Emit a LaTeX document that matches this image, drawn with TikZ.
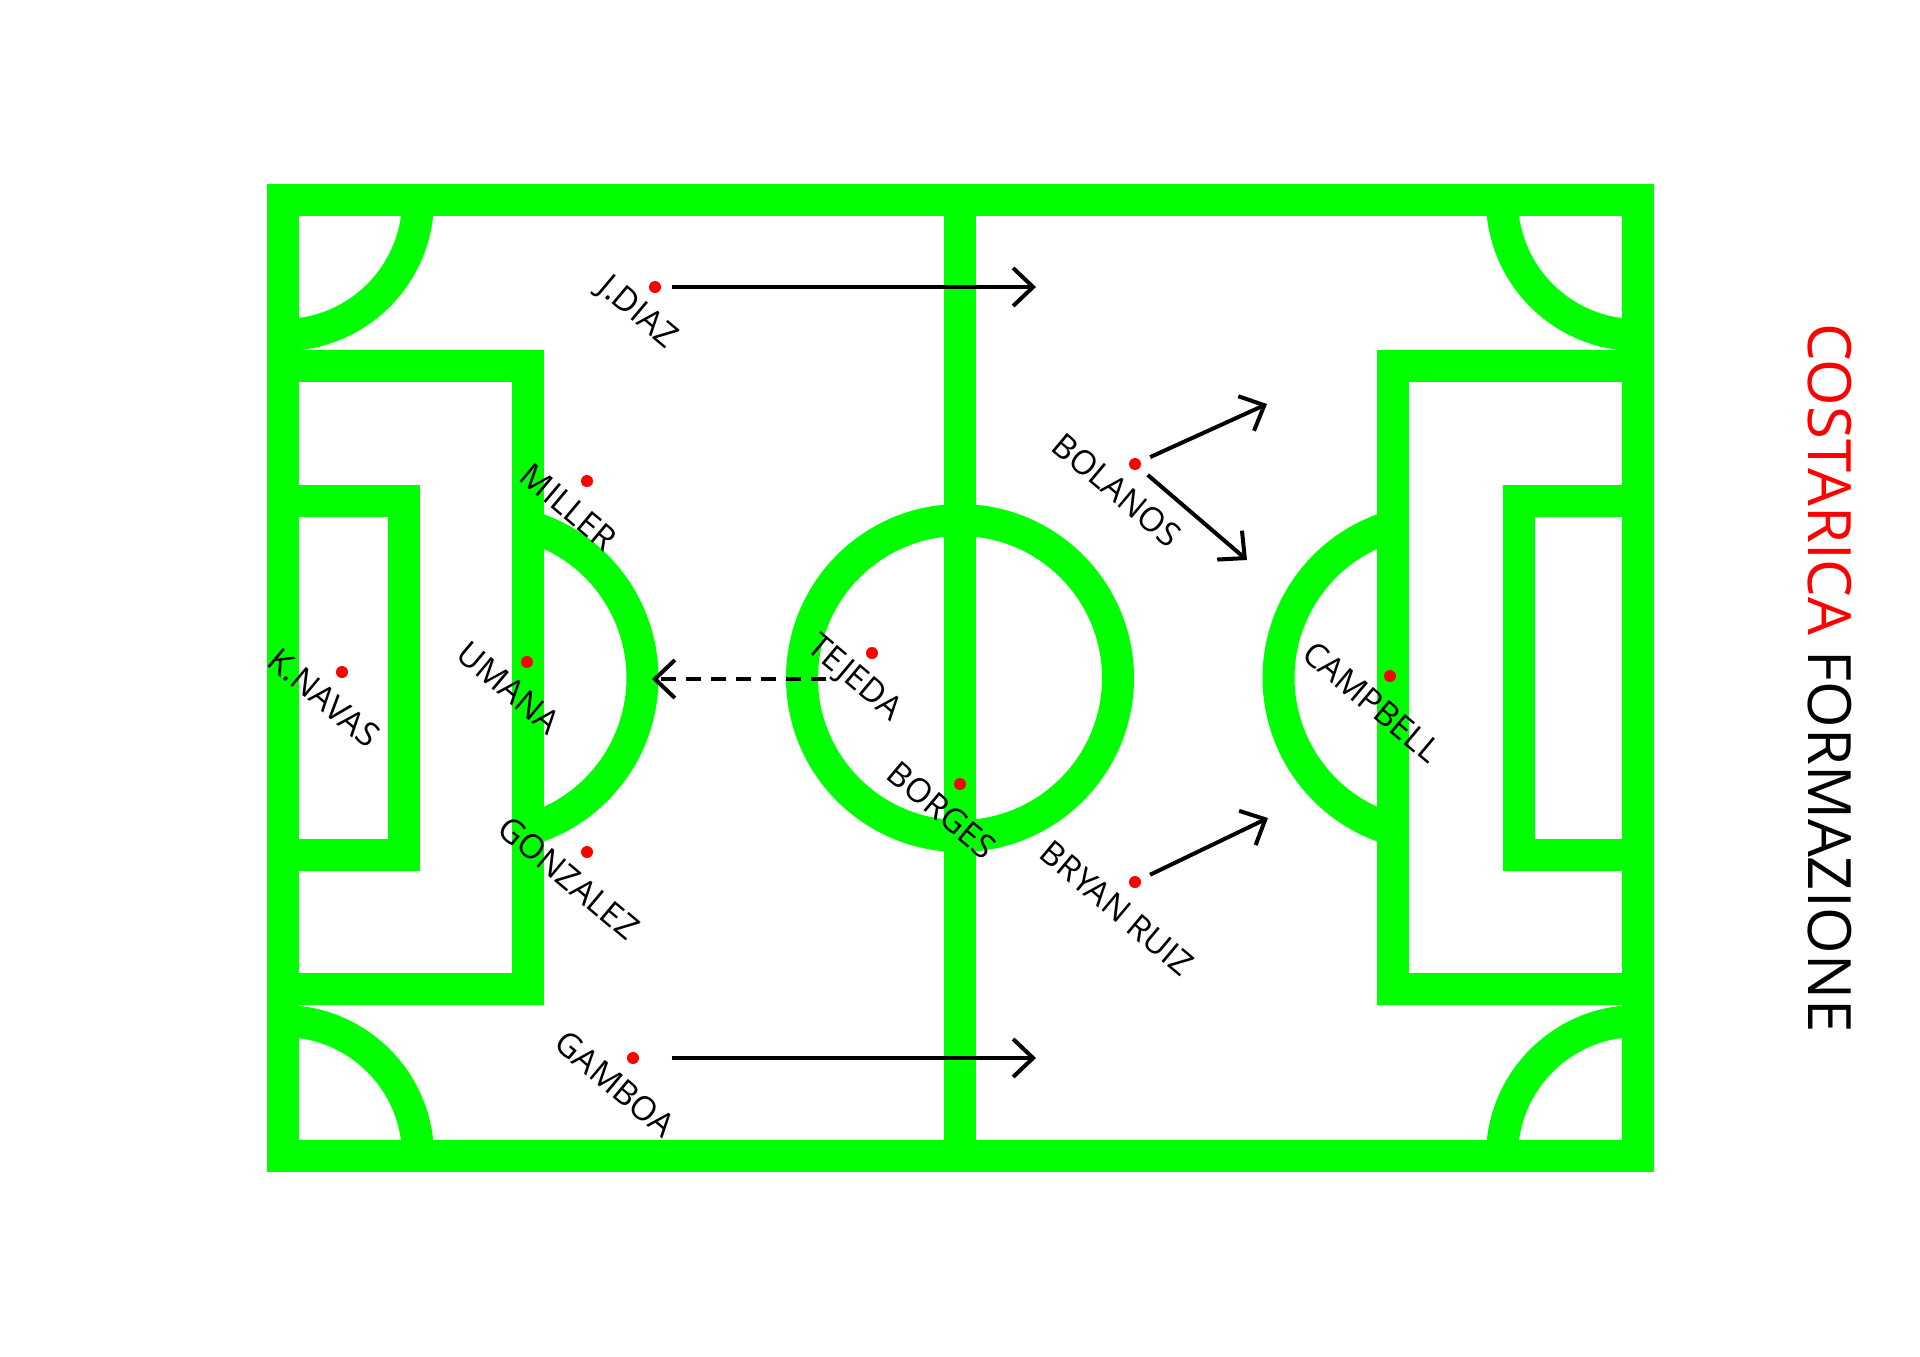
\documentclass[tikz,border=0pt]{standalone}
\usepackage{fontspec}
\setmainfont{Open Sans}
\usepackage{xcolor}
\definecolor{pitch-green}{HTML}{00FF00}
\usetikzlibrary{arrows.meta}
\tikzset{pline/.style = {draw=pitch-green, line width=.32cm, line cap=butt, miter limit=10}}
\tikzset{player/.style = {circle, fill=red, inner sep=0pt, minimum size=.12cm}}
\tikzset{pname/.style = {font=\fontsize{9.5}{11}\selectfont, xshift=-.18cm, yshift=-.26cm, rotate=-40, inner sep=0pt}}
\tikzset{arr/.style = {line width=.04cm, -{Straight Barb[length=.2cm, width=.38cm]}}}
\tikzset{run/.style = {arr, shorten <=.1cm}}

\begin{document}
\begin{tikzpicture}[x=.01cm, y=-.01cm]
\useasboundingbox (0,0) rectangle (1920,1356);

% pitch
\draw[pline] (283,200) rectangle (1638,1156);
\draw[pline] (960,200) -- (960,1156);
\draw[pline] (960,678) circle[radius=158];
% left end
\draw[pline] (283,366) -- (528,366) -- (528,989) -- (283,989);
\draw[pline] (283,501) -- (404,501) -- (404,855) -- (283,855);
\draw[pline] (418,200) arc[start angle=0, end angle=90, radius=135];
\draw[pline] (283,1021) arc[start angle=-90, end angle=0, radius=135];
\draw[pline] (528,526) arc[start angle=-74, end angle=74, radius=158];
% right end
\draw[pline] (1638,366) -- (1393,366) -- (1393,989) -- (1638,989);
\draw[pline] (1638,501) -- (1519,501) -- (1519,855) -- (1638,855);
\draw[pline] (1502,200) arc[start angle=180, end angle=90, radius=135];
\draw[pline] (1637,1021) arc[start angle=270, end angle=180, radius=135];
\draw[pline] (1393,526) arc[start angle=254, end angle=106, radius=158];

\node[player] (navas) at (342,672) {};
\node[player] (miller) at (587,481) {};
\node[player] (umana) at (527,662) {};
\node[player] (gonzalez) at (587,852) {};
\node[player] (diaz) at (655,287) {};
\node[player] (gamboa) at (633,1058) {};
\node[player] (tejeda) at (872,653) {};
\node[player] (borges) at (960,784) {};
\node[player] (bolanos) at (1135,464) {};
\node[player] (ruiz) at (1135,882) {};
\node[player] (campbell) at (1390,676) {};

\node[pname] (navas-l) at (navas) {K.NAVAS};
\node[pname] (miller-l) at (miller) {MILLER};
\node[pname] (umana-l) at (umana) {UMANA};
\node[pname] (gonzalez-l) at (gonzalez) {GONZALEZ};
\node[pname] (diaz-l) at (diaz) {J.DIAZ};
\node[pname] (gamboa-l) at (gamboa) {GAMBOA};
\node[pname] (tejeda-l) at (tejeda) {TEJEDA};
\node[pname] (borges-l) at (borges) {BORGES};
\node[pname] (bolanos-l) at (bolanos) {BOLANOS};
\node[pname] (ruiz-l) at (ruiz) {BRYAN RUIZ};
\node[pname] (campbell-l) at (campbell) {CAMPBELL};

\coordinate (diaz-e) at (1036,287);
\coordinate (gamboa-e) at (1036,1058);
\coordinate (bolanos-a) at (1267,404);
\coordinate (bolanos-b) at (1247,560);
\coordinate (ruiz-e) at (1268,818);
\coordinate (tejeda-s) at (826,679);
\coordinate (tejeda-e) at (652,679);

\draw[run]  (diaz) -- (diaz-e);
\draw[run, shorten <=.32cm]  (gamboa) -- (gamboa-e);
\draw[run]  (bolanos) -- (bolanos-a);
\draw[run]  (bolanos) -- (bolanos-b);
\draw[run]  (ruiz) -- (ruiz-e);
\draw[arr, dash pattern=on .15cm off .1cm]  (tejeda-s) -- (tejeda-e);

\node[rotate=-90, inner sep=0pt, font=\fontsize{17}{21}\selectfont] (title) at (1830,678) {\textcolor{red}{COSTARICA} FORMAZIONE};

\end{tikzpicture}
\end{document}
